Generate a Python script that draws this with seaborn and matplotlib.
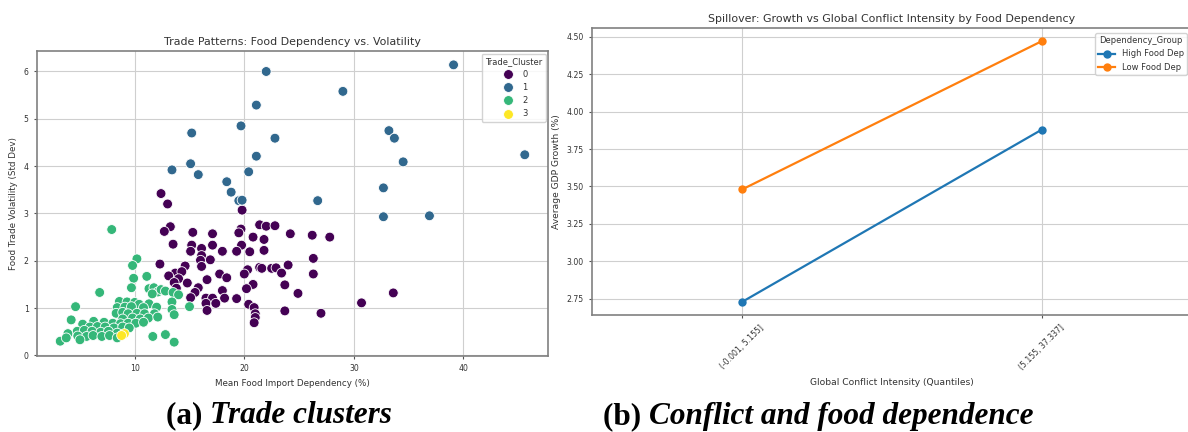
import matplotlib
matplotlib.use("Agg")
import matplotlib.pyplot as plt
import seaborn as sns
import pandas as pd
import numpy as np

# ---------------- Data: left panel (scatter) ----------------
c0_x = [12.4, 13.0, 19.8, 13.25, 12.7, 15.3, 17.1, 19.7, 19.5, 21.4, 22.0, 22.8, 24.2, 26.2, 27.8,
        20.8, 21.8, 13.5, 15.2, 16.1, 17.1, 19.75, 15.1, 16.1, 18.0, 19.3, 20.5, 21.8, 26.3, 16.0,
        16.9, 12.3, 14.6, 16.1, 20.3, 21.4, 21.6, 22.5, 22.9, 24.0, 13.7, 14.3, 17.75, 18.4, 23.4,
        26.3, 13.1, 14.0, 16.6, 20.0, 13.6, 14.8, 20.8, 23.7, 15.8, 20.2, 33.6, 24.9, 15.5, 18.0,
        16.5, 15.1, 17.1, 18.2, 19.3, 16.5, 17.4, 30.7, 20.4, 20.9, 16.6, 23.7, 27.0, 21.0, 21.0,
        20.9, 13.8]
c0_y = [3.42, 3.20, 3.07, 2.72, 2.62, 2.60, 2.57, 2.67, 2.59, 2.76, 2.73, 2.74, 2.57, 2.54, 2.50,
        2.50, 2.45, 2.35, 2.33, 2.26, 2.33, 2.33, 2.20, 2.11, 2.20, 2.20, 2.19, 2.22, 2.05, 2.01,
        2.02, 1.93, 1.89, 1.88, 1.81, 1.86, 1.84, 1.84, 1.85, 1.91, 1.74, 1.77, 1.72, 1.64, 1.74,
        1.72, 1.68, 1.62, 1.60, 1.72, 1.54, 1.53, 1.50, 1.49, 1.43, 1.41, 1.32, 1.31, 1.33, 1.37,
        1.21, 1.22, 1.21, 1.21, 1.20, 1.10, 1.10, 1.11, 1.08, 1.01, 0.95, 0.94, 0.89, 0.88, 0.80,
        0.69, 1.42]

c1_x = [39.1, 22.0, 29.0, 21.1, 19.7, 15.2, 22.8, 33.2, 33.7, 21.1, 45.6, 34.5, 15.1, 13.4, 15.8,
        20.4, 18.4, 18.8, 32.7, 19.5, 19.8, 26.7, 32.7, 36.9]
c1_y = [6.14, 6.00, 5.58, 5.29, 4.85, 4.70, 4.59, 4.75, 4.59, 4.21, 4.24, 4.09, 4.05, 3.92, 3.82,
        3.88, 3.67, 3.45, 3.54, 3.27, 3.28, 3.27, 2.93, 2.95]

c2_x = [7.9, 10.2, 9.8, 9.9, 11.1, 9.7, 6.8, 11.3, 11.75, 12.1, 12.4, 12.8, 11.6, 13.5, 14.0,
        13.4, 8.6, 9.3, 10.0, 10.4, 11.3, 4.6, 8.4, 9.1, 9.7, 10.8, 12.0, 15.0, 13.4, 8.3,
        8.9, 9.4, 10.2, 10.9, 11.8, 13.6, 8.9, 9.8, 10.5, 11.25, 12.1, 4.2, 6.25, 7.2, 8.0,
        8.7, 9.4, 10.1, 10.8, 5.25, 5.9, 6.6, 7.3, 8.1, 8.9, 9.5, 4.75, 5.4, 6.1, 6.9,
        7.6, 8.4, 3.9, 4.8, 5.6, 6.2, 7.0, 7.7, 5.0, 3.2, 3.75, 11.65, 12.8, 13.6, 8.4]
c2_y = [2.66, 2.04, 1.90, 1.63, 1.67, 1.43, 1.33, 1.41, 1.43, 1.34, 1.39, 1.36, 1.30, 1.33, 1.28,
        1.13, 1.14, 1.13, 1.12, 1.08, 1.09, 1.03, 1.01, 1.02, 1.03, 1.01, 1.02, 1.03, 0.97, 0.89,
        0.91, 0.88, 0.89, 0.88, 0.88, 0.86, 0.77, 0.79, 0.77, 0.79, 0.81, 0.75, 0.72, 0.70, 0.68,
        0.67, 0.68, 0.68, 0.70, 0.66, 0.60, 0.61, 0.60, 0.58, 0.60, 0.58, 0.51, 0.53, 0.51, 0.49,
        0.51, 0.47, 0.46, 0.41, 0.40, 0.42, 0.40, 0.42, 0.33, 0.30, 0.37, 0.40, 0.44, 0.28, 0.37]

c3_x = [9.06, 8.8]
c3_y = [0.46, 0.42]

# ---------------- Data: right panel (point plot) ----------------
conflict_bins = ["(-0.001, 5.155]", "(5.155, 37.337]"]
groups = ["High Food Dep", "Low Food Dep"]
growth_high = [2.73, 3.88]
growth_low = [3.48, 4.47]

# ---------------- Build frames ----------------
xs, ys, cl = [], [], []
for k, (cx, cy) in enumerate([(c0_x, c0_y), (c1_x, c1_y), (c2_x, c2_y), (c3_x, c3_y)]):
    xs += cx
    ys += cy
    cl += [k] * len(cx)
df_scatter = pd.DataFrame({"Mean_Food_Import_Dep": xs, "Food_Trade_Vol": ys, "Trade_Cluster": cl})

df_point = pd.DataFrame({
    "Conflict_Q": conflict_bins * 2,
    "GDP_Growth": growth_high + growth_low,
    "Dependency_Group": [groups[0]] * 2 + [groups[1]] * 2,
})

# ---------------- Style ----------------
plt.rcParams.update({
    "font.family": ["DejaVu Sans"],
    "font.size": 6,
    "axes.edgecolor": "#808080",
    "axes.linewidth": 1.2,
    "xtick.color": "#555555",
    "ytick.color": "#555555",
    "xtick.labelcolor": "#333333",
    "ytick.labelcolor": "#333333",
    "xtick.major.size": 2.5,
    "ytick.major.size": 2.5,
    "xtick.labelsize": 5.6,
    "ytick.labelsize": 5.6,
    "axes.labelsize": 6.3,
    "axes.titlesize": 7.9,
    "axes.labelcolor": "#333333",
    "text.color": "#333333",
    "legend.fontsize": 6,
    "legend.title_fontsize": 6,
})

fig = plt.figure(figsize=(11.88, 4.32), dpi=100)
W, H = 1188, 432

def px_axes(l, t, r, b):
    return fig.add_axes([l / W, 1 - b / H, (r - l) / W, (b - t) / H])

ax1 = px_axes(37, 51, 548, 356)
ax2 = px_axes(592, 28, 1192, 315)

# Left: scatter
sns.scatterplot(data=df_scatter, x="Mean_Food_Import_Dep", y="Food_Trade_Vol",
                hue="Trade_Cluster", palette="viridis", s=50, legend="full",
                edgecolor="white", linewidth=0.6, ax=ax1)
ax1.set_title("Trade Patterns: Food Dependency vs. Volatility", pad=4)
ax1.set_xlabel("Mean Food Import Dependency (%)")
ax1.set_ylabel("Food Trade Volatility (Std Dev)")
ax1.grid(True, color="#cfcfcf", linewidth=0.8)
ax1.set_axisbelow(True)
ax1.legend(title="Trade_Cluster", loc="upper right", markerscale=1.0,
           borderaxespad=0.3, framealpha=0.85)

# Right: point plot
sns.pointplot(data=df_point, x="Conflict_Q", y="GDP_Growth", hue="Dependency_Group",
              palette=["#1f77b4", "#ff7f0e"], markers="o", errorbar=None,
              linewidth=1.6, markersize=4.8, ax=ax2)
ax2.set_title("Spillover: Growth vs Global Conflict Intensity by Food Dependency", pad=4)
ax2.set_xlabel("Global Conflict Intensity (Quantiles)", fontsize=6.6)
ax2.set_ylabel("Average GDP Growth (%)", fontsize=6.6)
ax2.set_yticks([2.75, 3.00, 3.25, 3.50, 3.75, 4.00, 4.25, 4.50])
ax2.set_yticklabels(["2.75", "3.00", "3.25", "3.50", "3.75", "4.00", "4.25", "4.50"])
for lab in ax2.get_xticklabels():
    lab.set_rotation(45)
ax2.grid(True, color="#cfcfcf", linewidth=0.8)
ax2.set_axisbelow(True)
ax2.legend(title="Dependency_Group", loc="upper right", borderaxespad=0.6, framealpha=0.85)

# Captions
renderer = fig.canvas.get_renderer()
def caption(cx, cy, label, body, size=22.5):
    t1 = fig.text(0, cy / H, label + " ", fontfamily="Liberation Serif", fontweight="bold",
                  fontsize=size, color="black", va="baseline", ha="left")
    t2 = fig.text(0, cy / H, body, fontfamily="Liberation Serif", fontweight="bold",
                  fontstyle="italic", fontsize=size, color="black", va="baseline", ha="left")
    w1 = t1.get_window_extent(renderer).width
    w2 = t2.get_window_extent(renderer).width
    x0 = cx - (w1 + w2) / 2
    t1.set_x(x0 / W)
    t2.set_x((x0 + w1) / W)

caption(279, H - 423, "(a)", "Trade clusters")
caption(818, H - 424, "(b)", "Conflict and food dependence")

fig.savefig("out.png", dpi=100)
